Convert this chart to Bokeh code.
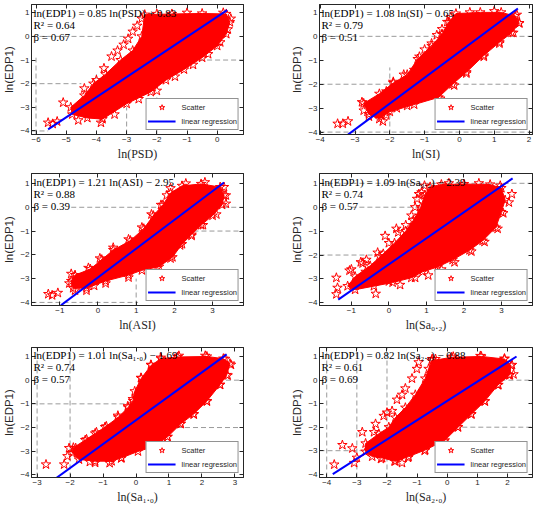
from bokeh.plotting import figure
from bokeh.layouts import row, column
from bokeh.models import Range1d, FixedTicker, Label, LinearAxis
from bokeh.embed import file_html
from bokeh.resources import INLINE

# ---------------- data ----------------
# Panel 1: ln(PSD)
psd_slope, psd_icpt, psd_r2, psd_beta = 0.85, 0.83, 0.64, 0.67
psd_line_x = [-5.6, 0.33]
psd_core_x = [-2.4, -1.5, -0.5, 0.3, 0.42, 0.3, 0.0, -0.5, -1.1, -1.7, -2.2, -3.0, -3.8, -4.3, -4.8, -4.85, -4.4, -4.1, -3.7, -3.2, -2.8, -2.5]
psd_core_y = [0.92, 0.95, 0.97, 0.95, 0.6, 0.1, -0.4, -0.9, -1.4, -1.85, -2.35, -2.85, -3.5, -3.45, -3.3, -3.0, -2.5, -2.0, -1.6, -1.0, -0.6, 0.0]
psd_star_x = [-5.6, -5.45, -5.3, -5.1, -4.6, -4.4, -4.0, -3.75, -3.5, -3.3, -3.1, -2.95, -2.8, -2.65, -2.5, -3.85, -3.4, -2.6, -2.0, -1.4, -0.8, -0.3, 0.1, 0.35, 0.45, 0.2, -1.0, -2.0, -4.2, -3.9, -4.55, -3.6]
psd_star_y = [-3.65, -3.7, -3.6, -2.8, -3.55, -2.2, -1.85, -1.35, -0.85, -0.6, -0.35, -0.1, 0.2, 0.45, 0.75, -3.65, -3.3, -2.65, -2.3, -1.7, -1.2, -0.75, -0.25, 0.3, 0.75, 1.0, 1.0, 0.95, -2.9, -2.35, -3.0, -3.0]

# Panel 2: ln(SI)
si_slope, si_icpt, si_r2, si_beta = 1.08, -0.65, 0.79, 0.51
si_line_x = [-3.2, 1.68]
si_core_x = [-0.1, 0.6, 1.2, 1.6, 1.72, 1.5, 1.15, 0.7, 0.2, -0.2, -0.6, -1.3, -2.0, -2.3, -2.6, -2.75, -2.3, -1.9, -1.5, -1.2, -0.8, -0.5, -0.3]
si_core_y = [0.95, 1.0, 1.0, 0.85, 0.55, 0.15, -0.25, -0.8, -1.5, -2.0, -2.55, -2.85, -3.15, -3.45, -3.25, -2.8, -2.4, -1.95, -1.6, -0.95, -0.4, 0.1, 0.6]
si_star_x = [-3.5, -3.35, -3.2, -2.8, -2.75, -2.6, -2.2, -2.4, -2.1, -1.8, -1.5, -2.1, -1.9, -1.6, -1.3, -1.15, -1.0, -0.8, -0.65, -0.5, -0.35, -0.25, -0.55, -0.15, 0.2, 0.7, 1.15, 1.55, 1.72, 1.65, 1.0, 0.3]
si_star_y = [-3.65, -3.65, -3.55, -2.75, -3.1, -3.35, -3.55, -3.2, -3.3, -3.0, -2.9, -2.3, -1.9, -1.6, -1.4, -0.85, -0.55, -0.3, 0.05, 0.3, 0.6, 0.8, -2.6, -2.05, -1.55, -0.85, -0.3, 0.15, 0.55, 0.9, 1.05, 1.0]

# Panel 3: ln(ASI)
asi_slope, asi_icpt, asi_r2, asi_beta = 1.21, -2.95, 0.88, 0.39
asi_line_x = [-0.97, 3.3]
asi_core_x = [-0.6, -0.2, 0.1, 0.4, 0.85, 1.2, 1.45, 1.7, 1.9, 2.2, 2.7, 3.2, 3.3, 3.25, 3.0, 2.7, 2.45, 2.2, 1.95, 1.6, 1.15, 0.8, 0.2, -0.3, -0.65, -0.7]
asi_core_y = [-2.85, -2.6, -2.2, -1.8, -1.4, -0.9, -0.35, 0.1, 0.6, 0.9, 0.98, 0.85, 0.5, 0.1, -0.35, -0.75, -1.15, -1.55, -2.1, -2.5, -2.65, -2.85, -3.1, -3.4, -3.4, -3.1]
asi_star_x = [-1.3, -1.2, -1.05, -0.7, -0.75, -0.6, -0.3, -0.25, 0.05, 0.4, 0.8, 1.15, 1.4, 1.65, 1.8, 1.9, 2.3, 2.8, 3.3, 3.35, 3.35, 3.1, 2.75, 2.45, 2.15, 1.9, 1.55, 0.8, 0.2, -0.1]
asi_star_y = [-3.65, -3.7, -3.6, -2.8, -3.2, -3.5, -3.5, -2.55, -2.15, -1.7, -1.35, -0.85, -0.3, 0.1, 0.5, 0.8, 1.0, 1.05, 0.85, 0.5, 0.15, -0.3, -0.75, -1.2, -1.6, -2.15, -2.55, -2.95, -3.2, -3.3]

# Panel 4: ln(Sa,0.2)
sa02_slope, sa02_icpt, sa02_r2, sa02_beta = 1.09, -2.39, 0.74, 0.57
sa02_line_x = [-1.35, 3.3]
sa02_core_x = [-1.1, -0.9, -0.5, -0.15, 0.15, 0.45, 0.65, 0.85, 0.95, 1.1, 1.4, 2.0, 2.7, 3.0, 3.1, 3.0, 2.85, 2.5, 2.15, 1.7, 1.3, 0.9, 0.6, 0.1, -0.4, -0.9]
sa02_core_y = [-3.3, -2.9, -2.45, -1.95, -1.5, -1.0, -0.55, 0.0, 0.5, 0.85, 0.95, 0.97, 0.95, 0.8, 0.3, -0.2, -0.85, -1.4, -1.8, -2.2, -2.5, -2.7, -2.95, -3.15, -3.3, -3.45]
sa02_star_x = [-1.4, -1.37, -1.4, -1.05, -0.7, -0.62, -0.95, -0.35, 0.0, 0.3, 0.7, -0.25, 0.0, 0.25, 0.45, 0.6, 0.7, 0.75, 0.87, 0.95, 2.97, 3.28, 3.2, 3.05, 2.9, 2.55, 2.2, 1.75, 1.4, 1.05, 1.6, 2.4, -0.6, -0.3, -0.1, 0.2, 0.8, -1.0, -0.75]
sa02_star_y = [-2.95, -3.37, -3.64, -2.65, -2.35, -2.7, -3.25, -3.62, -3.1, -3.25, -2.95, -2.05, -1.5, -1.05, -0.75, -0.35, 0.0, 0.35, 0.62, 0.9, 0.9, 0.55, 0.2, -0.25, -0.9, -1.45, -1.85, -2.3, -2.6, -2.85, 1.0, 1.0, -2.2, -1.9, -1.2, -0.9, 0.55, -2.6, -2.3]

# Panel 5: ln(Sa,1.0)
sa10_slope, sa10_icpt, sa10_r2, sa10_beta = 1.01, -1.69, 0.74, 0.57
sa10_line_x = [-2.42, 2.75]
sa10_core_x = [-1.9, -1.54, -1.24, -0.94, -0.54, -0.24, -0.09, -0.04, 0.16, 0.46, 0.76, 1.26, 2.15, 2.65, 2.85, 2.75, 2.55, 2.15, 1.75, 1.36, 0.96, 0.56, 0.06, -0.44, -0.74, -1.24, -1.73, -1.93]
sa10_core_y = [-2.85, -2.53, -2.25, -1.98, -1.57, -1.15, -0.88, -0.47, 0.08, 0.63, 0.91, 0.98, 1.0, 0.91, 0.7, 0.22, -0.19, -0.88, -1.43, -1.84, -2.39, -2.8, -3.01, -3.28, -3.42, -3.42, -3.35, -3.08]
sa10_star_x = [-2.73, -2.18, -2.08, -2.03, -1.83, -1.73, -1.24, -1.5, -1.2, -0.9, -0.55, -0.25, -0.1, 0.15, 0.45, 0.75, 1.3, 2.1, 2.7, 2.88, 2.78, 2.55, 2.15, 1.75, 1.35, 0.95, 0.55, -0.45, -0.8, -1.4]
sa10_star_y = [-3.56, -3.56, -3.21, -2.87, -2.87, -3.08, -3.49, -2.5, -2.2, -1.95, -1.5, -1.1, -0.8, 0.1, 0.65, 0.95, 1.03, 1.03, 0.9, 0.65, 0.2, -0.2, -0.9, -1.45, -1.85, -2.4, -2.85, -3.3, -3.5, -3.45]

# Panel 6: ln(Sa,2.0)
sa20_slope, sa20_icpt, sa20_r2, sa20_beta = 0.82, -0.88, 0.61, 0.69
sa20_line_x = [-3.8, 2.3]
sa20_core_x = [-2.71, -2.27, -1.94, -1.72, -1.39, -1.06, -0.73, -0.62, -0.52, 0.14, 1.13, 1.9, 2.12, 2.06, 1.68, 1.24, 0.8, 0.36, -0.08, -0.73, -1.28, -1.72, -2.16, -2.49, -2.71]
sa20_core_y = [-2.69, -2.28, -2.0, -1.59, -1.17, -0.62, 0.07, 0.48, 0.83, 0.97, 1.01, 0.9, 0.62, 0.21, -0.21, -0.9, -1.45, -2.0, -2.56, -2.97, -3.25, -3.45, -3.31, -3.25, -3.04]
sa20_star_x = [-3.75, -3.48, -3.15, -3.09, -2.82, -2.43, -2.38, -2.11, -1.83, -1.67, -1.5, -1.39, -1.17, -1.01, -0.95, -0.5, 0.2, 1.1, 1.9, 2.15, 2.2, 2.08, 1.7, 1.25, 0.8, 0.35, -0.1, -0.75, -1.3, -1.5, -1.75, -2.2, -2.6, -3.0, -2.0, -0.39]
sa20_star_y = [-3.59, -2.76, -2.9, -3.52, -2.21, -2.21, -1.86, -1.52, -1.31, -0.83, -0.62, -0.35, 0.07, 0.48, 0.76, 0.9, 1.0, 1.03, 0.92, 0.65, 0.25, 0.22, -0.2, -0.9, -1.45, -2.0, -2.6, -3.0, -3.3, -3.52, -3.45, -3.35, -3.0, -3.3, -1.38, 0.9]

# axis ranges and ticks
psd_xr, psd_yr, psd_xt = (-6.15, 0.87), (-4.15, 1.35), [-6, -5, -4, -3, -2, -1, 0]
si_xr, si_yr, si_xt = (-4.02, 2.1), (-4.1, 1.33), [-4, -3, -2, -1, 0, 1, 2]
asi_xr, asi_yr, asi_xt = (-1.74, 3.81), (-4.13, 1.42), [-1, 0, 1, 2, 3]
sa02_xr, sa02_yr, sa02_xt = (-1.85, 3.83), (-4.11, 1.41), [-1, 0, 1, 2, 3]
sa10_xr, sa10_yr, sa10_xt = (-3.17, 3.26), (-4.11, 1.38), [-3, -2, -1, 0, 1, 2, 3]
sa20_xr, sa20_yr, sa20_xt = (-4.24, 2.83), (-4.14, 1.39), [-4, -3, -2, -1, 0, 1, 2]
y_ticks = [-4, -3, -2, -1, 0, 1]

# dashed reference segments: horizontal (y, x0, x1), vertical (x, y0, y1)
psd_h = ([0, -1, -2, -4], [-6.15, -0.6, -6.15, -6.15], [-2.9, 0.87, -4.5, -5.6])
psd_v = ([-6, -4, -3, -2], [-4.15, -2.8, -4.15, -4.15], [-0.9, -1.6, -3.0, -2.5])
si_h = ([0, -2, -4], [-4.02, -4.02, -4.02], [2.1, 2.1, 2.1])
si_v = ([-2], [-4.1], [-1.3])
asi_h = ([0, -1, -4], [-0.7, 2.5, -1.74], [3.81, 3.81, 1.05])
asi_v = ([1.0], [-4.13], [-3.0])
sa02_h = ([1, 0, -2], [-1.85, -1.0, -1.85], [3.83, 1.2, 0.5])
sa02_v = ([], [], [])
sa10_h = ([-1, -2, 0], [-3.17, 1.0, 2.0], [0.0, 3.26, 3.26])
sa10_v = ([-3, -2], [-4.11, -4.11], [1.38, 1.38])
sa20_h = ([-3, -2, 0], [-4.24, 0.5, 1.5], [-2.5, 2.83, 2.83])
sa20_v = ([-4, -3, -2], [-4.14, -4.14, -4.14], [1.39, 1.39, 1.39])

# labels
psd_name, psd_xlabel = "PSD", "ln(PSD)"
si_name, si_xlabel = "SI", "ln(SI)"
asi_name, asi_xlabel = "ASI", "ln(ASI)"
sa02_name, sa02_xlabel = "Sa\u2080.\u2082", "ln(Sa\u2080.\u2082)"
sa10_name, sa10_xlabel = "Sa\u2081.\u2080", "ln(Sa\u2081.\u2080)"
sa20_name, sa20_xlabel = "Sa\u2082.\u2080", "ln(Sa\u2082.\u2080)"

RED = "#ff0000"
BLUE = "#0000ff"
DARK = "#262626"
SERIF = "'Liberation Serif', 'DejaVu Serif', serif"
SANS = "'Liberation Sans', Arial, sans-serif"


def style_axis(ax, ticks, labels=True):
    ax.ticker = FixedTicker(ticks=ticks)
    ax.major_tick_in = 4
    ax.major_tick_out = 0
    ax.minor_tick_line_color = None
    ax.axis_line_color = DARK
    ax.major_tick_line_color = DARK
    ax.major_label_text_font = SANS
    ax.major_label_text_color = DARK
    if labels:
        ax.major_label_text_font_size = "8px"
        ax.major_label_standoff = 2
        ax.axis_label_standoff = 2
    else:
        ax.major_label_text_font_size = "0px"
        ax.major_label_standoff = 0
        ax.major_label_text_alpha = 0
    ax.axis_label_text_font_style = "normal"
    ax.axis_label_text_color = DARK


def make_panel(name, xlabel, slope, icpt, r2, beta, line_x, core_x, core_y,
               star_x, star_y, xr, yr, xt, hseg, vseg,
               width, height, bl, br, bt, bb):
    p = figure(width=width, height=height, output_backend="svg",
               toolbar_location=None, x_range=Range1d(*xr), y_range=Range1d(*yr),
               min_border_left=bl, min_border_right=br,
               min_border_top=bt, min_border_bottom=bb)
    p.background_fill_color = "white"
    p.border_fill_color = "white"
    p.outline_line_color = DARK
    p.outline_line_width = 1
    p.grid.visible = False

    bottom_ax = p.xaxis[0]
    left_ax = p.yaxis[0]
    style_axis(bottom_ax, xt)
    style_axis(left_ax, y_ticks)
    bottom_ax.axis_label = xlabel
    bottom_ax.axis_label_text_font = SERIF
    bottom_ax.axis_label_text_font_size = "12px"
    left_ax.axis_label = "ln(EDP1)"
    left_ax.axis_label_text_font = SANS
    left_ax.axis_label_text_font_size = "11.5px"

    top = LinearAxis()
    style_axis(top, xt, labels=False)
    p.add_layout(top, "above")
    right = LinearAxis()
    style_axis(right, y_ticks, labels=False)
    p.add_layout(right, "right")

    # dashed reference lines
    hy, hx0, hx1 = hseg
    if hy:
        p.segment(x0=hx0, y0=hy, x1=hx1, y1=hy, line_color="#9a9a9a",
                  line_width=1, line_dash="5 3")
    vx, vy0, vy1 = vseg
    if vx:
        p.segment(x0=vx, y0=vy0, x1=vx, y1=vy1, line_color="#9a9a9a",
                  line_width=1, line_dash="5 3")

    # dense cloud envelope + star markers
    p.patch(core_x, core_y, fill_color=RED, line_color=RED, line_width=1)
    p.scatter(core_x, core_y, marker="star", size=10, fill_alpha=0,
              line_color=RED, line_width=1)
    p.scatter(star_x, star_y, marker="star", size=10, fill_alpha=0,
              line_color=RED, line_width=1, legend_label="Scatter")

    # regression line
    ly = [slope * x + icpt for x in line_x]
    p.line(line_x, ly, line_color=BLUE, line_width=2, legend_label="linear regression")

    # annotation
    sign = "+" if icpt >= 0 else "\u2212"
    lines = ["ln(EDP1) = %.2f ln(%s) %s %.2f" % (slope, name, sign, abs(icpt)),
             "R\u00b2 = %.2f" % r2,
             "\u03b2 = %.2f" % beta]
    frame_h = height - bt - bb
    per_px = (yr[1] - yr[0]) / frame_h
    frame_w = width - bl - br
    per_px_x = (xr[1] - xr[0]) / frame_w
    for i, t in enumerate(lines):
        p.add_layout(Label(x=xr[0] + 2 * per_px_x, y=yr[1] - (2 + 12 * i) * per_px,
                           text=t, text_font=SERIF,
                           text_font_size="11px", text_color="black",
                           text_baseline="top", text_align="left"))

    lg = p.legend[0]
    lg.location = "bottom_right"
    lg.margin = 4
    lg.padding = 1
    lg.spacing = -2
    lg.label_text_font = SANS
    lg.label_text_font_size = "7.5px"
    lg.label_text_color = DARK
    lg.glyph_width = 28
    lg.glyph_height = 14
    lg.label_height = 12
    lg.label_standoff = 6
    lg.border_line_color = DARK
    lg.border_line_width = 1
    lg.background_fill_alpha = 1
    return p


W1, W2 = 288, 246
rows_spec = [(164, 4, 30), (171, 9, 30), (171, 12, 28)]

p1 = make_panel(psd_name, psd_xlabel, psd_slope, psd_icpt, psd_r2, psd_beta, psd_line_x,
                psd_core_x, psd_core_y, psd_star_x, psd_star_y, psd_xr, psd_yr, psd_xt,
                psd_h, psd_v, W1, rows_spec[0][0], 30, 45, rows_spec[0][1], rows_spec[0][2])
p2 = make_panel(si_name, si_xlabel, si_slope, si_icpt, si_r2, si_beta, si_line_x,
                si_core_x, si_core_y, si_star_x, si_star_y, si_xr, si_yr, si_xt,
                si_h, si_v, W2, rows_spec[0][0], 31, 2, rows_spec[0][1], rows_spec[0][2])
p3 = make_panel(asi_name, asi_xlabel, asi_slope, asi_icpt, asi_r2, asi_beta, asi_line_x,
                asi_core_x, asi_core_y, asi_star_x, asi_star_y, asi_xr, asi_yr, asi_xt,
                asi_h, asi_v, W1, rows_spec[1][0], 30, 45, rows_spec[1][1], rows_spec[1][2])
p4 = make_panel(sa02_name, sa02_xlabel, sa02_slope, sa02_icpt, sa02_r2, sa02_beta, sa02_line_x,
                sa02_core_x, sa02_core_y, sa02_star_x, sa02_star_y, sa02_xr, sa02_yr, sa02_xt,
                sa02_h, sa02_v, W2, rows_spec[1][0], 31, 2, rows_spec[1][1], rows_spec[1][2])
p5 = make_panel(sa10_name, sa10_xlabel, sa10_slope, sa10_icpt, sa10_r2, sa10_beta, sa10_line_x,
                sa10_core_x, sa10_core_y, sa10_star_x, sa10_star_y, sa10_xr, sa10_yr, sa10_xt,
                sa10_h, sa10_v, W1, rows_spec[2][0], 30, 45, rows_spec[2][1], rows_spec[2][2])
p6 = make_panel(sa20_name, sa20_xlabel, sa20_slope, sa20_icpt, sa20_r2, sa20_beta, sa20_line_x,
                sa20_core_x, sa20_core_y, sa20_star_x, sa20_star_y, sa20_xr, sa20_yr, sa20_xt,
                sa20_h, sa20_v, W2, rows_spec[2][0], 31, 2, rows_spec[2][1], rows_spec[2][2])

layout = column(row(p1, p2), row(p3, p4), row(p5, p6))
open("out.html", "w").write(file_html(layout, INLINE))
